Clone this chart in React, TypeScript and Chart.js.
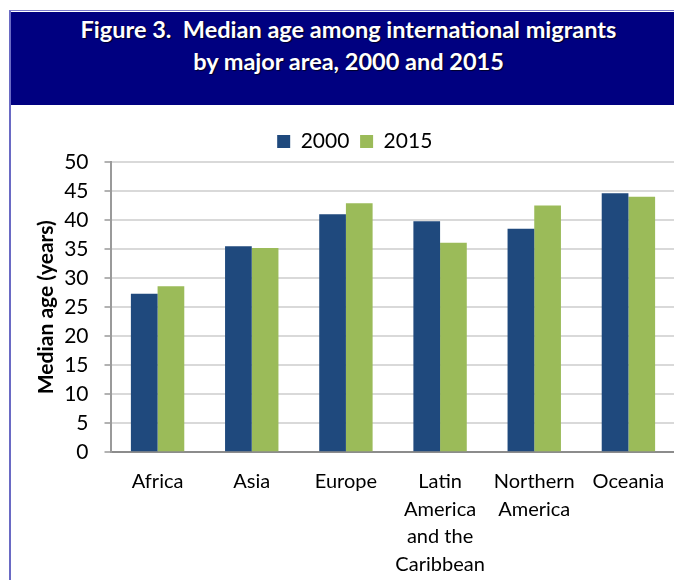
import React, { useEffect, useRef } from "react";
import { Chart, registerables } from "chart.js";

Chart.register(...registerables);

const categories: (string | string[])[] = [
  "Africa",
  "Asia",
  "Europe",
  ["Latin", "America", "and the", "Caribbean"],
  ["Northern", "America"],
  "Oceania",
];
const seriesNames = ["2000", "2015"];
const values2000 = [27.3, 35.5, 41.0, 39.8, 38.5, 44.6];
const values2015 = [28.6, 35.2, 42.9, 36.1, 42.5, 44.0];
const seriesColors = ["#1F497D", "#9BBB59"];
const yMin = 0;
const yMax = 50;
const yStep = 5;
const titleLines = [
  "Figure 3.  Median age among international migrants",
  "by major area, 2000 and 2015",
];
const yAxisTitle = "Median age (years)";

export default function App() {
  const canvasRef = useRef<HTMLCanvasElement | null>(null);

  useEffect(() => {
    let chart: Chart | null = null;
    let cancelled = false;
    const make = () => {
      if (cancelled || !canvasRef.current) return;
      chart = new Chart(canvasRef.current, {
        type: "bar",
        data: {
          labels: categories,
          datasets: [
            {
              label: seriesNames[0],
              data: values2000,
              backgroundColor: seriesColors[0],
              categoryPercentage: 0.567,
              barPercentage: 1.0,
            },
            {
              label: seriesNames[1],
              data: values2015,
              backgroundColor: seriesColors[1],
              categoryPercentage: 0.567,
              barPercentage: 1.0,
            },
          ],
        },
        options: {
          responsive: false,
          animation: false,
          devicePixelRatio: 1,
          layout: { padding: { top: 15.3, right: 2.5, bottom: 0, left: 0 } },
          plugins: {
            tooltip: { enabled: false },
            legend: {
              display: true,
              position: "top",
              labels: {
                boxWidth: 13,
                boxHeight: 13,
                padding: 10.7,
                color: "#000",
                font: { family: "Lato", size: 21 },
              },
            },
          },
          scales: {
            x: {
              grid: { display: true, drawOnChartArea: false, drawTicks: false },
              border: { display: true, color: "#8c8c8c", width: 2 },
              ticks: {
                color: "#000",
                font: { family: "Lato", size: 20, lineHeight: 1.375 },
                padding: 15.5,
                maxRotation: 0,
                minRotation: 0,
                autoSkip: false,
              },
              afterFit: (s: any) => {
                s.height = 127.7;
                s.paddingLeft = 0;
                s.paddingRight = 0;
              },
            },
            y: {
              min: yMin,
              max: yMax,
              ticks: {
                stepSize: yStep,
                color: "#000",
                font: { family: "Lato", size: 21 },
                padding: 16,
              },
              grid: {
                color: "#d9d9d9",
                lineWidth: 2,
                tickColor: "#999",
                tickLength: 6,
                tickWidth: 1.5,
              },
              border: { display: true, color: "#9a9a9a", width: 2 },
              title: {
                display: true,
                text: yAxisTitle,
                color: "#000",
                font: { family: "Lato", size: 21, weight: "bold" },
                padding: 0,
              },
              afterFit: (s: any) => {
                s.width = 76.5;
              },
            },
          },
        },
      });
    };
    const fonts: any = (document as any).fonts;
    if (fonts && fonts.load) {
      Promise.all([
        fonts.load("21px Lato"),
        fonts.load("bold 21px Lato"),
        fonts.load("bold 24px Lato"),
      ])
        .catch(() => null)
        .then(make);
    } else {
      make();
    }
    return () => {
      cancelled = true;
      if (chart) chart.destroy();
    };
  }, []);

  return (
    <div
      style={{
        position: "fixed",
        left: 0,
        top: 0,
        width: 674,
        height: 580,
        overflow: "hidden",
        background: "#fff",
      }}
    >
      <div
        style={{
          position: "absolute",
          left: 9,
          top: 10,
          width: 700,
          height: 600,
          borderLeft: "2px solid #6a6ac4",
          borderTop: "1.5px solid #7a7ac8",
          boxSizing: "border-box",
        }}
      />
      <div
        style={{
          position: "absolute",
          left: 11,
          top: 11.5,
          width: 700,
          height: 93.5,
          background: "#000080",
        }}
      />
      <div
        style={{
          position: "absolute",
          left: 0,
          top: 12.7,
          width: 697,
          textAlign: "center",
          color: "#fff",
          fontFamily: "Lato, sans-serif",
          fontWeight: "bold",
          fontSize: 23.5,
          lineHeight: "32px",
          whiteSpace: "pre",
          textShadow: "1px 1px 1px rgba(0,0,0,0.7)",
        }}
      >
        {titleLines.map((t, i) => (
          <div key={i}>{t}</div>
        ))}
      </div>
      <canvas
        ref={canvasRef}
        width={644}
        height={475}
        style={{ position: "absolute", left: 34, top: 105, width: 644, height: 475 }}
      />
    </div>
  );
}
